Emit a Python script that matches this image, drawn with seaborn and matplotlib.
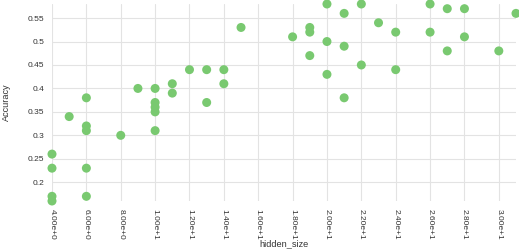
import matplotlib
matplotlib.use('Agg')
import matplotlib.pyplot as plt
import seaborn as sns
import pandas as pd
from matplotlib.ticker import FuncFormatter

# Data
hidden_size = [4, 4, 4, 4, 5, 6, 6, 6, 6, 6, 8, 9,
               10, 10, 10, 10, 10, 11, 11, 12, 13, 13, 14, 14, 15,
               18, 19, 19, 19, 20, 20, 20, 21, 21, 21, 22, 22, 23,
               24, 24, 26, 26, 27, 27, 28, 28, 30, 31]
accuracy = [0.26, 0.23, 0.17, 0.16, 0.34, 0.38, 0.32, 0.31, 0.23, 0.17, 0.30, 0.40,
            0.40, 0.37, 0.36, 0.35, 0.31, 0.41, 0.39, 0.44, 0.44, 0.37, 0.44, 0.41, 0.53,
            0.51, 0.53, 0.52, 0.47, 0.58, 0.50, 0.43, 0.56, 0.49, 0.38, 0.58, 0.45, 0.54,
            0.52, 0.44, 0.58, 0.52, 0.57, 0.48, 0.57, 0.51, 0.48, 0.56]
x_ticks = [4, 6, 8, 10, 12, 14, 16, 18, 20, 22, 24, 26, 28, 30]
y_ticks = [0.2, 0.25, 0.3, 0.35, 0.4, 0.45, 0.5, 0.55]

df = pd.DataFrame({'hidden_size': hidden_size, 'Accuracy': accuracy})

sns.set_style('white')
plt.rcParams['font.family'] = ['Liberation Sans', 'DejaVu Sans']

fig = plt.figure(figsize=(5.19, 2.49), dpi=100)
ax = fig.add_axes([52 / 519, 48 / 249, 464 / 519, 197 / 249])

sns.scatterplot(data=df, x='hidden_size', y='Accuracy', ax=ax,
                color='#79c970', s=42, edgecolor='none', clip_on=False, zorder=3)

ax.set_xlim(4, 31)
ax.set_ylim(0.16, 0.58)
ax.set_xticks(x_ticks)
ax.set_yticks(y_ticks)


def sci_fmt(v, pos):
    mant, exp = f'{v:.2e}'.split('e')
    return f'{mant}e{exp[0]}{int(exp[1:])}'


ax.xaxis.set_major_formatter(FuncFormatter(sci_fmt))
ax.yaxis.set_major_formatter(FuncFormatter(lambda v, p: f'{v:g}'))

for s in ax.spines.values():
    s.set_visible(False)
ax.grid(True, color='#e3e3e3', linewidth=0.8)
ax.set_axisbelow(True)
ax.tick_params(axis='both', length=3, width=0.6, color='#999999',
               labelsize=6, labelcolor='#333333', pad=2.5)
plt.setp(ax.get_xticklabels(), rotation=270, va='top', ha='center')

ax.set_xlabel('hidden_size', fontsize=6.6, color='#333333', labelpad=0)
ax.set_ylabel('Accuracy', fontsize=6.6, color='#333333', labelpad=12)

fig.savefig('out.png', dpi=100)
